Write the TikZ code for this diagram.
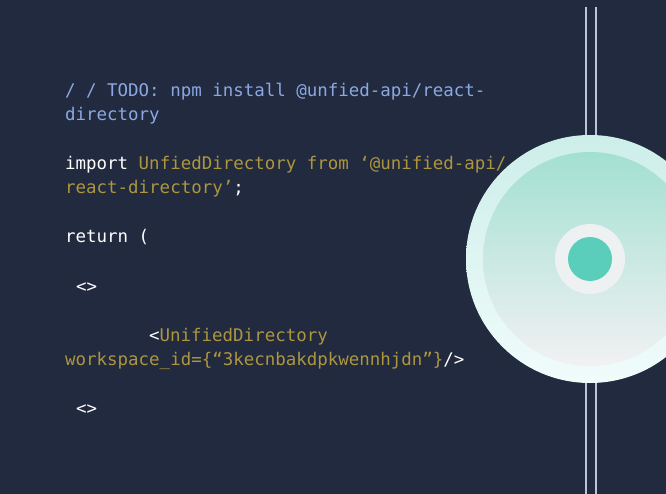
\documentclass[tikz,border=0pt]{standalone}
\usepackage{fontspec}
\setmonofont{DejaVu Sans Mono}
\definecolor{slate}{HTML}{212A3E}
\definecolor{todoblue}{HTML}{8CA8E2}
\definecolor{codegold}{HTML}{AD963F}
\definecolor{railgray}{HTML}{B9C6D8}
\definecolor{discTop}{HTML}{CDEEE9}
\definecolor{discBot}{HTML}{F0FCFB}
\definecolor{faceTop}{HTML}{A3E0D1}
\definecolor{faceBot}{HTML}{F1F1F3}
\definecolor{haloGray}{HTML}{EEF1F1}
\definecolor{dotTeal}{HTML}{5ACDBB}
\tikzset{
	codeline/.style={rectangle, anchor=base west, inner sep=0pt, font=\fontsize{17.45}{21}\selectfont\ttfamily, text=white},
	rail/.style={draw=railgray, line width=2pt},
	round/.style={circle, inner sep=0pt},
}
\begin{document}
\begin{tikzpicture}[x=1pt, y=-1pt]
	\useasboundingbox[fill=slate] (0,0) rectangle (666,494);
	\node[codeline, text=todoblue] (todoA) at (65,97) {/ / TODO: npm install @unfied-api/react-};
	\node[codeline, text=todoblue] (todoB) at (65,121) {directory};
	\node[codeline] (importA) at (65,170) {import \textcolor{codegold}{UnfiedDirectory from ‘@unified-api/}};
	\node[codeline, text=codegold] (importB) at (65,194) {react-directory’\textcolor{white}{;}};
	\node[codeline] (returnText) at (65,243) {return (};
	\node[codeline] (openTag) at (76,292) {<>};
	\node[codeline] (dirA) at (149,341) {<\textcolor{codegold}{UnifiedDirectory}};
	\node[codeline, text=codegold] (dirB) at (65,365) {workspace\_id=\{“3kecnbakdpkwennhjdn”\}\textcolor{white}{/>}};
	\node[codeline] (closeTag) at (76,414) {<>};
	\coordinate (railAtop) at (585.5,7);
	\coordinate (railAbot) at (585.5,494);
	\coordinate (railBtop) at (596,7);
	\coordinate (railBbot) at (596,494);
	\draw[rail] (railAtop) -- (railAbot);
	\draw[rail] (railBtop) -- (railBbot);
	\node[round, minimum size=248pt, top color=discTop, bottom color=discBot] (disc) at (590,259) {};
	\node[round, minimum size=214pt, top color=faceTop, bottom color=faceBot] (face) at (590,259) {};
	\node[round, minimum size=70pt, fill=haloGray] (halo) at (590,259) {};
	\node[round, minimum size=44pt, fill=dotTeal] (dot) at (590,259) {};
\end{tikzpicture}
\end{document}
